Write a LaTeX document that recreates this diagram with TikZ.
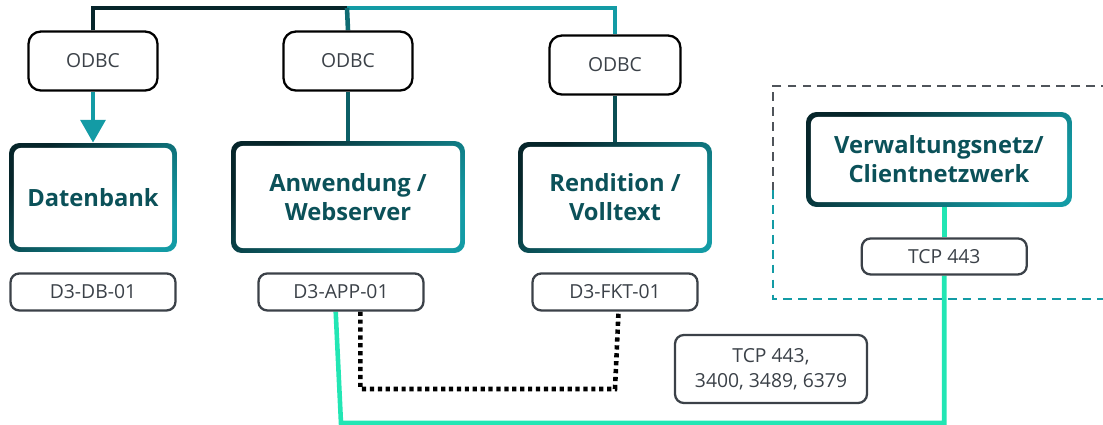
\documentclass[tikz,border=0pt]{standalone}
\usepackage{fontspec}
\setmainfont{Open Sans}
\usepackage{xcolor}
\usepackage{tikz}
\usetikzlibrary{
  positioning,
  arrows.meta,
  backgrounds
}
\definecolor{nodedark}{HTML}{06252A}
\definecolor{nodeteal}{HTML}{139BA5}
\definecolor{nodetext}{HTML}{0B5159}
\definecolor{labelgray}{HTML}{3B4148}
\definecolor{linemint}{HTML}{22E6B4}
\definecolor{linemid}{HTML}{0C5F66}
\tikzset{
  >=Latex,
  server/.style={rectangle,rounded corners=6pt,align=center,
    top color=nodedark,bottom color=nodeteal,shading angle=45,
    text=nodetext,font=\fontsize{13.5}{16.5}\selectfont\bfseries,
    path picture={\fill[white,rounded corners=4pt]
      ([shift={(2.8pt,2.8pt)}]path picture bounding box.south west) rectangle
      ([shift={(-2.8pt,-2.8pt)}]path picture bounding box.north east);}},
  driver/.style={rectangle,draw=black,line width=1.3pt,rounded corners=7pt,fill=white,
    minimum width=2.58cm,minimum height=1.18cm,text=labelgray,font=\fontsize{11}{13}\selectfont},
  hostid/.style={rectangle,draw=labelgray,line width=1.3pt,rounded corners=5pt,fill=white,
    minimum width=3.3cm,minimum height=0.74cm,text=labelgray,font=\fontsize{11}{13}\selectfont,align=center},
  link/.style={line width=2.6pt},
  sync/.style={line width=2.6pt,dash pattern=on 2.4pt off 2.1pt}
}
\begin{document}
\begin{tikzpicture}[x=0.02cm,y=-0.02cm]
    \useasboundingbox (0,0) rectangle (1103,425);

    % server boxes
    \node[server,minimum width=3.36cm,minimum height=2.18cm] (db) at (93,197.5) {Datenbank};
    \node[server,minimum width=4.68cm,minimum height=2.24cm] (app) at (348,197) {Anwendung /\\Webserver};
    \node[server,minimum width=3.88cm,minimum height=2.22cm] (rend) at (615,197.5) {Rendition /\\Volltext};
    \node[server,minimum width=5.32cm,minimum height=1.9cm] (verw) at (939,159.5) {Verwaltungsnetz/\\Clientnetzwerk};

    % drivers and host names
    \node[driver,above=1.02cm of db] (odbcdb) {ODBC};
    \node[driver,above=0.98cm of app] (odbcapp) {ODBC};
    \node[driver,above=0.92cm of rend,minimum width=2.62cm] (odbcrend) {ODBC};
    \node[hostid,below=0.4cm of db] (dbid) {D3-DB-01};
    \node[hostid,below=0.38cm of app,xshift=-4pt] (appid) {D3-APP-01};
    \node[hostid,below=0.38cm of rend] (fktid) {D3-FKT-01};
    \node[hostid,below=0.6cm of verw,xshift=3pt,minimum height=0.72cm] (tcpclient) {TCP 443};
    \node[hostid,minimum width=3.84cm,minimum height=1.36cm,font=\fontsize{11}{14}\selectfont] (tcpports) at (771,369) {TCP 443,\\3400, 3489, 6379};

    \coordinate (bus) at (347,8);
    \coordinate (syncdown) at (0,389);
    \coordinate (mintdown) at (0,423);

    % client zone
    \draw[labelgray!90,line width=0.9pt,dash pattern=on 5pt off 3.5pt] (1110,86) -- (773,86) -- (773,190);
    \draw[nodeteal,line width=0.9pt,dash pattern=on 5pt off 3.5pt] (773,190) -- (773,299) -- (1110,299);

    \begin{scope}[on background layer]
    \draw[link,nodedark] (odbcdb.north) |- (bus);
    \draw[link,nodeteal] (bus) -| (odbcrend.north);
    \draw[link,linemid!80!nodeteal] (odbcapp.north) -- (bus);
    \draw[link,nodeteal,-{Triangle[width=14pt,length=13pt]}] (odbcdb.south) -- (db.north);
    \draw[link,linemid] (odbcapp.south) -- (app.north);
    \draw[link,linemid!70!nodedark] (odbcrend.south) -- (rend.north);
    \draw[link,linemint] (verw.south -| tcpclient) -- (tcpclient.north);
    \draw[link,linemint] (tcpclient.south) |- (mintdown -| appid.south) -- ([xshift=-3pt]appid.south);
    \draw[sync] ([xshift=11pt]appid.south) |- (syncdown -| fktid.south) -- ([xshift=2pt]fktid.south);
    \end{scope}
\end{tikzpicture}
\end{document}
